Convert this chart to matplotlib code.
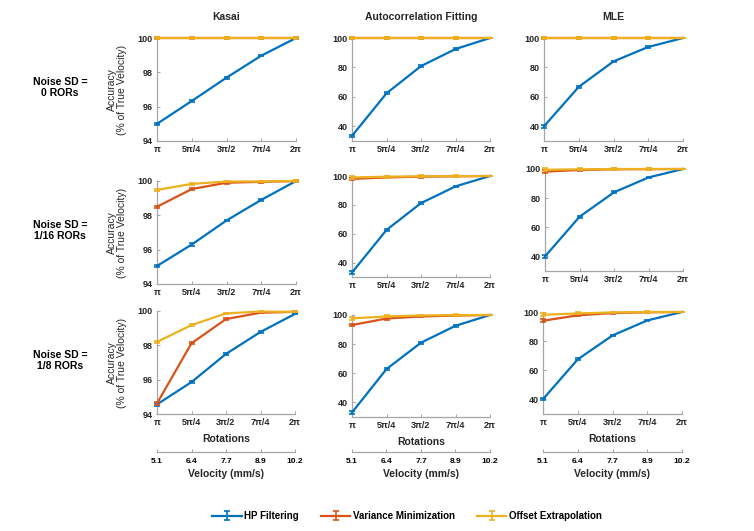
import matplotlib.pyplot as plt

plt.rcParams['font.family'] = ['Liberation Sans', 'DejaVu Sans']

# x positions are multiples of pi (rotations)
rotations = [1.0, 1.25, 1.5, 1.75, 2.0]
rotation_labels = ['π', '5π/4', '3π/2', '7π/4', '2π']
velocity_labels = ['5.1', '6.4', '7.7', '8.9', '10.2']

methods = ['Kasai', 'Autocorrelation Fitting', 'MLE']
noise_levels = ['Noise SD =\n0 RORs', 'Noise SD =\n1/16 RORs', 'Noise SD =\n1/8 RORs']
series_names = ['HP Filtering', 'Variance Minimization', 'Offset Extrapolation']
colors = ['#0072BD', '#D95319', '#EDB120']

# accuracy (% of true velocity), one row per noise level
kasai_hp = [[95.0, 96.33, 97.69, 98.97, 100.0],
            [95.05, 96.3, 97.7, 98.9, 100.0],
            [94.56, 95.86, 97.5, 98.78, 99.83]]
kasai_vm = [[100.0, 100.0, 100.0, 100.0, 100.0],
            [98.5, 99.53, 99.9, 99.95, 100.0],
            [94.62, 98.12, 99.53, 99.9, 99.95]]
kasai_oe = [[100.0, 100.0, 100.0, 100.0, 100.0],
            [99.48, 99.83, 99.97, 99.97, 100.0],
            [98.2, 99.18, 99.86, 99.97, 99.95]]

acf_hp = [[33.5, 62.4, 80.9, 92.5, 100.0],
          [33.1, 62.6, 81.2, 92.8, 100.0],
          [33.1, 62.9, 81.0, 92.6, 100.0]]
acf_vm = [[100.0, 100.0, 100.0, 100.0, 100.0],
          [98.0, 99.0, 99.5, 99.8, 100.0],
          [93.1, 97.6, 99.0, 99.6, 100.0]]
acf_oe = [[100.0, 100.0, 100.0, 100.0, 100.0],
          [99.0, 99.5, 99.8, 99.9, 100.0],
          [97.7, 99.0, 99.7, 99.9, 100.0]]

mle_hp = [[40.0, 66.8, 84.1, 93.9, 100.0],
          [40.0, 67.2, 84.0, 94.2, 100.0],
          [40.2, 67.5, 83.9, 94.2, 100.0]]
mle_vm = [[100.0, 100.0, 100.0, 100.0, 100.0],
          [98.2, 99.3, 99.8, 99.9, 100.0],
          [94.0, 97.7, 99.3, 99.8, 100.0]]
mle_oe = [[100.0, 100.0, 100.0, 100.0, 100.0],
          [99.5, 99.8, 100.0, 100.0, 100.0],
          [98.1, 99.0, 99.7, 100.0, 100.0]]

# small error bars (std) per method
kasai_err = [0.07, 0.06, 0.05, 0.04, 0.03]
other_err = [0.9, 0.7, 0.6, 0.5, 0.3]

data = [(kasai_hp, kasai_vm, kasai_oe), (acf_hp, acf_vm, acf_oe), (mle_hp, mle_vm, mle_oe)]
errs = [kasai_err, other_err, other_err]

W, H = 754, 531
# axes boxes in pixels: left, top, right, bottom  [row][col]
boxes = [[(157, 38, 296, 141), (352, 38, 490, 141), (544, 38, 683, 141)],
         [(157, 181, 296, 284), (352, 176, 490, 277), (545, 169, 683, 271)],
         [(157, 311, 295, 414), (352, 315, 490, 417), (543, 312, 682, 414)]]

fig = plt.figure(figsize=(W / 100, H / 100), dpi=100)
spine_c = '#a6a6a6'
text_c = '#262626'

handles = []
for r in range(3):
    for c in range(3):
        l, t, rr, b = boxes[r][c]
        ax = fig.add_axes([l / W, 1 - b / H, (rr - l) / W, (b - t) / H])
        for k in range(3):
            vals = data[c][k][r]
            h = ax.errorbar(rotations, vals, yerr=errs[c], color=colors[k], lw=1.6,
                            capsize=2, capthick=1.2, elinewidth=1.2, clip_on=False,
                            zorder=3 + k)
            for art in h.lines[1] + h.lines[2]:
                art.set_clip_on(False)
            if r == 0 and c == 0:
                handles.append(h)
        ax.set_xlim(1, 2)
        if c == 0:
            ax.set_ylim(94, 100)
            ax.set_yticks([94, 96, 98, 100])
            ax.set_ylabel('Accuracy\n(% of True Velocity)', fontsize=7.5, color=text_c,
                          labelpad=8, linespacing=1.0)
        else:
            ax.set_ylim(30, 100)
            ax.set_yticks([40, 60, 80, 100])
        ax.set_xticks(rotations, labels=rotation_labels)
        for s in ['top', 'right']:
            ax.spines[s].set_visible(False)
        for s in ['left', 'bottom']:
            ax.spines[s].set_color(spine_c)
            ax.spines[s].set_linewidth(0.9)
        ax.tick_params(direction='in', length=2.5, width=0.7, color=spine_c,
                       labelsize=6.5, labelcolor=text_c, pad=3)
        for lab in ax.get_xticklabels() + ax.get_yticklabels():
            lab.set_fontweight('bold')
        if r == 0:
            ax.set_title(methods[c], fontsize=7.5, fontweight='bold', color=text_c, pad=13)
        if r == 2:
            ax.set_xlabel('Rotations', fontsize=7.5, fontweight='bold', color=text_c, labelpad=5)
            loc = -(452 - b) / (b - t)
            sec = ax.secondary_xaxis(loc)
            sec.set_xticks(rotations, labels=velocity_labels)
            sec.spines['bottom'].set_color(spine_c)
            sec.spines['bottom'].set_linewidth(0.9)
            sec.tick_params(direction='in', length=2.5, width=0.7, color=spine_c,
                            labelsize=6, labelcolor='black', pad=4)
            for lab in sec.get_xticklabels():
                lab.set_fontweight('bold')
            sec.set_xlabel('Velocity (mm/s)', fontsize=7.5, fontweight='bold', color=text_c,
                           labelpad=3)
    ymid = (boxes[r][0][1] + boxes[r][0][3]) / 2 - 2
    fig.text(60 / W, 1 - ymid / H, noise_levels[r], ha='center', va='center',
             fontsize=7.5, fontweight='bold', color='black', linespacing=1.2)

fig.legend(handles, series_names, loc='center', bbox_to_anchor=(407 / W, 1 - 516 / H),
           ncol=3, frameon=False, handlelength=3, columnspacing=2.3, handletextpad=0.25,
           prop={'size': 7, 'weight': 'bold'})

fig.savefig('out.png', dpi=100)
